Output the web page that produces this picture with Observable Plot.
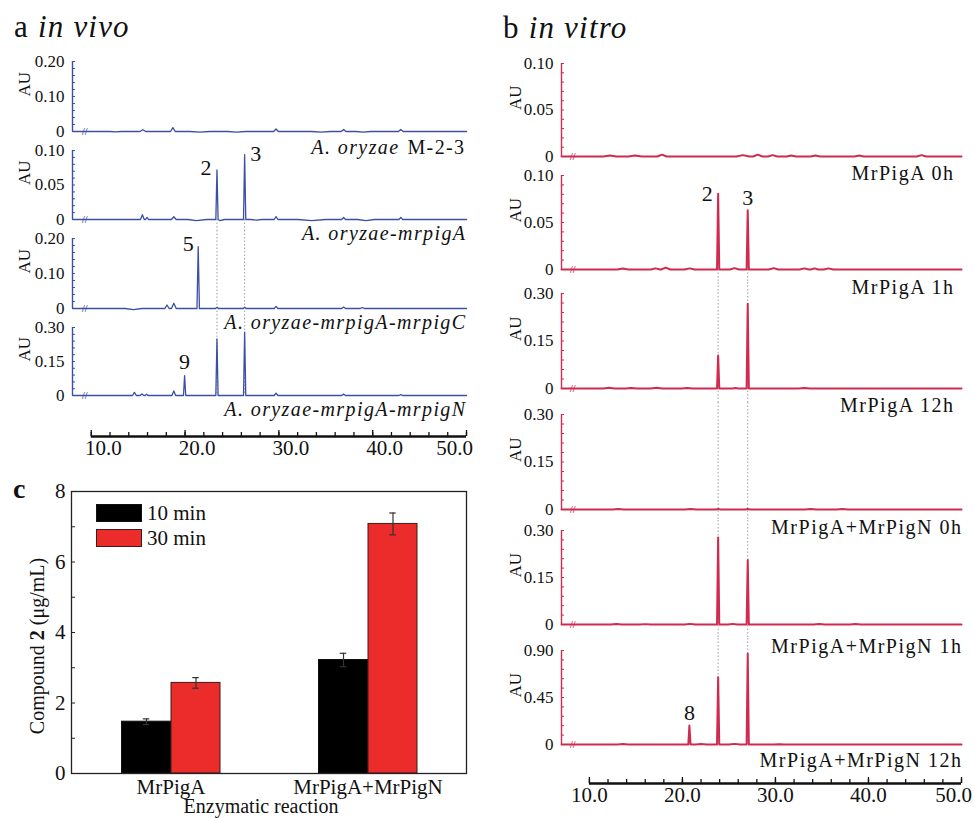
<!DOCTYPE html>
<html>
<head>
<meta charset="utf-8">
<script src="https://cdn.jsdelivr.net/npm/d3@7"></script>
<script src="https://cdn.jsdelivr.net/npm/@observablehq/plot@0.6"></script>
<style>
  html, body { margin: 0; padding: 0; background: #fff; }
  #root { position: relative; width: 975px; height: 818px; overflow: hidden;
          font-family: "Liberation Serif", "Times New Roman", Times, serif; color: #111; }
  .piece { position: absolute; }
  .piece svg { display: block; overflow: visible; }
  .title { position: absolute; font-size: 31px; line-height: 31px; white-space: nowrap; letter-spacing: 1.2px; }
  .swatch { position: absolute; box-sizing: border-box; width: 46px; height: 18px; }
  .legtext { position: absolute; font-size: 21px; line-height: 21px; white-space: nowrap; }
  .ylab { position: absolute; font-size: 20px; line-height: 20px; white-space: nowrap;
          transform: translate(-50%, -50%) rotate(-90deg); }
</style>
</head>
<body>
<div id="root"></div>
<script>
// ====================== DATA ======================
// Retention-time axis (min)
const timeTicks = [10, 20, 30, 40, 50];
const timeMinorTicks = [10, 12, 14, 16, 18, 20, 22, 24, 26, 28, 30, 32, 34, 36, 38, 40, 42, 44, 46, 48, 50];

// AU tick labels
const yTicks010 = [0, 0.05, 0.10];
const yTicks020 = [0, 0.10, 0.20];
const yTicks030 = [0, 0.15, 0.30];
const yTicks090 = [0, 0.45, 0.90];

// ---- Panel a (in vivo): [retention time, AU] ----
const aSampleNames = ["A. oryzae M-2-3", "A. oryzae-mrpigA", "A. oryzae-mrpigA-mrpigC", "A. oryzae-mrpigA-mrpigN"];
const aTraceM23 = [[8,0],[12.0,0],[12.6,-0.001],[13.2,0],[15.2,0],[15.5,0.005],[15.8,0],[18.45,0],[18.7,0.011],[18.95,0],
  [20.5,0],[21.6,-0.002],[22.6,0],[24.5,0],[25.5,-0.002],[26.5,0],[29.45,0],[29.7,0.007],[29.95,0],[33.5,0],[34.5,-0.002],
  [35.5,0],[36.65,0],[36.9,0.006],[37.15,0],[38.2,0],[39.0,-0.002],[39.8,0],[42.75,0],[43.0,0.006],[43.25,0],[50,0]];
const aTraceMrpigA = [[8,0],[15.25,0],[15.45,0.007],[15.65,0],[15.8,0],[15.95,0.003],[16.1,0],[18.55,0],[18.8,0.004],[19.05,0],
  [20.3,0],[21.2,-0.0015],[22.3,0],[23.28,0],[23.4,0.072],[23.52,0],[23.7,-0.0015],[24.2,0],[26.23,0],[26.35,0.094],[26.47,0],
  [27.0,0],[27.6,-0.001],[28.2,0],[29.5,0],[29.7,0.004],[29.9,0],[32,0],[33.5,-0.0015],[35,0],[36.7,0],[36.9,0.003],[37.1,0],
  [38.4,0],[39.3,-0.0015],[40.2,0],[42.8,0],[43.0,0.003],[43.2,0],[50,0]];
const aTraceMrpigC = [[8,0],[13.6,0],[14.5,-0.003],[15.4,0],[17.85,0],[18.07,0.01],[18.3,0],[18.55,0],[18.8,0.015],[19.05,0],
  [21.27,0],[21.4,0.177],[21.53,0],[23.25,0],[23.4,0.004],[23.55,0],[26.2,0],[26.35,0.004],[26.5,0],[29.5,0],[29.7,0.006],
  [29.9,0],[36.7,0],[36.9,0.004],[37.1,0],[38.7,0],[38.9,0.003],[39.1,0],[50,0]];
const aTraceMrpigN = [[8,0],[14.4,0],[14.6,0.014],[14.8,0],[15.2,0],[15.4,0.007],[15.6,0],[15.75,0],[15.9,0.006],[16.05,0],
  [18.6,0],[18.8,0.02],[19.0,0],[19.83,0],[19.95,0.088],[20.07,0],[23.28,0],[23.4,0.25],[23.52,0],[26.23,0],[26.35,0.279],
  [26.47,0],[29.5,0],[29.7,0.01],[29.9,0],[36.7,0],[36.9,0.006],[37.1,0],[42.8,0],[43.0,0.004],[43.2,0],[50,0]];
const aPeaksMrpigA = [{t: 23.4, au: 0.072, label: "2"}, {t: 26.35, au: 0.094, label: "3"}];
const aPeaksMrpigC = [{t: 21.4, au: 0.177, label: "5"}];
const aPeaksMrpigN = [{t: 19.95, au: 0.088, label: "9"}];
const aRefTimes = [23.4, 26.35];

// ---- Panel b (in vitro): [retention time, AU] ----
const bSampleNames = ["MrPigA 0h", "MrPigA 1h", "MrPigA 12h", "MrPigA+MrPigN 0h", "MrPigA+MrPigN 1h", "MrPigA+MrPigN 12h"];
const bTraceA0h = [[7,0],[11.5,0],[12.2,0.001],[12.9,0],[14.2,0],[14.9,0.001],[15.6,0],[17.3,0],[17.8,0.002],[18.3,0],
  [25.8,0],[26.5,0.0015],[27.2,0],[27.6,0],[28.1,0.002],[28.6,0],[29.2,0],[29.7,0.0015],[30.2,0],[31.2,0],[31.7,0.001],
  [32.2,0],[33.8,0],[34.3,0.001],[34.8,0],[38.5,0],[39.0,0.001],[39.5,0],[45.2,0],[45.7,0.0015],[46.2,0],[50,0]];
const bTraceA1h = [[7,0],[13.0,0],[13.6,0.001],[14.2,0],[16.6,0],[17.1,0.0012],[17.6,0],[17.7,0],[18.2,0.002],[18.7,0],
  [20.2,0],[20.8,0.0012],[21.3,0],[23.72,0],[23.84,0.0805],[23.96,0],[25.1,0],[25.6,0.0015],[26.1,0],[26.9,0],[27.02,0.063],
  [27.14,0],[29.3,0],[29.8,0.0015],[30.3,0],[32.6,0],[33.1,0.0012],[33.6,0],[33.8,0],[34.2,0.0012],[34.6,0],[35.2,0],
  [35.7,0.0012],[36.2,0],[50,0]];
const bTraceA12h = [[7,0],[11.5,0],[12.1,0.002],[12.7,0],[13.9,0],[14.5,0.0015],[15.1,0],[16.6,0],[17.2,0.002],[17.8,0],
  [19.9,0],[20.5,0.0015],[21.1,0],[23.72,0],[23.84,0.104],[23.96,0],[25.4,0],[25.7,0.0015],[26.0,0],[26.9,0],[27.02,0.268],
  [27.14,0],[32.5,0],[33.1,0.0015],[33.7,0],[50,0]];
const bTraceAN0h = [[7,0],[12.5,0],[13.1,0.0015],[13.7,0],[20.3,0],[20.9,0.0015],[21.5,0],[23.6,0],[23.84,0.0015],[24.1,0],
  [26.8,0],[27.02,0.0015],[27.3,0],[33.2,0],[33.8,0.0015],[34.4,0],[36.6,0],[37.2,0.0012],[37.8,0],[50,0]];
const bTraceAN1h = [[7,0],[12.3,0],[12.9,0.0015],[13.5,0],[15.4,0],[16.0,0.0012],[16.6,0],[20.2,0],[20.8,0.002],[21.4,0],
  [23.72,0],[23.84,0.278],[23.96,0],[24.9,0],[25.4,0.002],[25.9,0],[26.9,0],[27.02,0.206],[27.14,0],[34.1,0],[34.7,0.0015],
  [35.3,0],[38.0,0],[38.6,0.0015],[39.2,0],[50,0]];
const bTraceAN12h = [[7,0],[13.0,0],[13.6,0.004],[14.2,0],[20.63,0],[20.75,0.182],[20.87,0],[21.4,0],[22.0,0.004],[22.6,0],
  [23.72,0],[23.84,0.645],[23.96,0],[25.0,0],[25.6,0.006],[26.2,0],[26.9,0],[27.02,0.869],[27.14,0],[29.8,0],[30.4,0.003],
  [31.0,0],[50,0]];
const bPeaksA1h = [{t: 23.84, au: 0.0805, label: "2"}, {t: 27.02, au: 0.063, label: "3"}];
const bPeaksAN12h = [{t: 20.75, au: 0.182, label: "8"}];
const bRefTimes = [23.84, 27.02];

// ---- Panel c: compound 2 (µg/mL) ----
const cReactions = ["MrPigA", "MrPigA+MrPigN"];
const cSeries = ["10 min", "30 min"];
const c10min = [1.47, 3.22];
const c10minErr = [0.08, 0.19];
const c30min = [2.57, 7.08];
const c30minErr = [0.15, 0.31];
const cYTicks = [0, 2, 4, 6, 8];
const cYMinorTicks = [0, 1, 2, 3, 4, 5, 6, 7, 8];

// ====================== DRAWING ======================
const SERIF = "'Liberation Serif','Times New Roman',Times,serif";
const root = document.getElementById("root");
const baseStyle = {fontFamily: SERIF, fontSize: "17px", overflow: "visible", background: "transparent", color: "#111"};

function place(node, left, top, width) {
  const div = document.createElement("div");
  div.className = "piece";
  div.style.left = left + "px";
  div.style.top = top + "px";
  if (width) div.style.width = width + "px";
  div.appendChild(node);
  root.appendChild(div);
  return div;
}
function addHTML(cls, html, css) {
  const d = document.createElement("div");
  d.className = cls;
  d.innerHTML = html;
  Object.assign(d.style, css);
  root.appendChild(d);
  return d;
}
function spaceText(svg, strings, spacing) {
  d3.select(svg).selectAll("text").filter(function () { return strings.includes(this.textContent); })
    .attr("letter-spacing", spacing + "px");
}

const panelA = {left: 0, width: 480, marginLeft: 72, marginRight: 14, domain: [8, 50], color: "#3d4fa5",
  lineWidth: 1.3, breakT: 9.3, auDx: -48, tickPad: 8, refTimes: aRefTimes, italic: true, nameSize: 20, spacing: 1.4};
const panelB = {left: 490, width: 485, marginLeft: 71, marginRight: 14, domain: [7, 50], color: "#cf2a4f",
  lineWidth: 2, breakT: 8.2, auDx: -46, tickPad: 8, refTimes: bRefTimes, italic: false, nameSize: 20, spacing: 1.5};

const aSubs = [
  {trace: aTraceM23, yTicks: yTicks020, name: aSampleNames[0], peaks: [], offs: [],
   L: {svgTop: 42, svgBottom: 141, frameTop: 61, frameBottom: 131, nameDy: 16, nameDx: -1, refs: null}},
  {trace: aTraceMrpigA, yTicks: yTicks010, name: aSampleNames[1], peaks: aPeaksMrpigA, offs: [[-11, -2], [11, -1]],
   L: {svgTop: 141, svgBottom: 230, frameTop: 150, frameBottom: 219, nameDy: 14, nameDx: 0, refs: "start"}},
  {trace: aTraceMrpigC, yTicks: yTicks020, name: aSampleNames[2], peaks: aPeaksMrpigC, offs: [[-10, -3]],
   L: {svgTop: 230, svgBottom: 318, frameTop: 238, frameBottom: 308, nameDy: 14, nameDx: 0, refs: "through"}},
  {trace: aTraceMrpigN, yTicks: yTicks030, name: aSampleNames[3], peaks: aPeaksMrpigN, offs: [[0, -14]],
   L: {svgTop: 318, svgBottom: 425, frameTop: 327, frameBottom: 395, nameDy: 14, nameDx: 0, refs: "end"}}
];
const bSubs = [
  {trace: bTraceA0h, yTicks: yTicks010, name: bSampleNames[0], peaks: [], offs: [],
   L: {svgTop: 42, svgBottom: 165, frameTop: 63, frameBottom: 156, nameDy: 17, nameDx: -7, refs: null}},
  {trace: bTraceA1h, yTicks: yTicks010, name: bSampleNames[1], peaks: bPeaksA1h, offs: [[-11, 0], [0, -12]],
   L: {svgTop: 165, svgBottom: 282, frameTop: 175, frameBottom: 269, nameDy: 18, nameDx: -7, refs: "start"}},
  {trace: bTraceA12h, yTicks: yTicks030, name: bSampleNames[2], peaks: [], offs: [],
   L: {svgTop: 282, svgBottom: 402, frameTop: 293, frameBottom: 388, nameDy: 17, nameDx: -7, refs: "through"}},
  {trace: bTraceAN0h, yTicks: yTicks030, name: bSampleNames[3], peaks: [], offs: [],
   L: {svgTop: 402, svgBottom: 520, frameTop: 414, frameBottom: 509, nameDy: 18, nameDx: 1, refs: "through"}},
  {trace: bTraceAN1h, yTicks: yTicks030, name: bSampleNames[4], peaks: [], offs: [],
   L: {svgTop: 520, svgBottom: 638, frameTop: 530, frameBottom: 624, nameDy: 22, nameDx: 1, refs: "through"}},
  {trace: bTraceAN12h, yTicks: yTicks090, name: bSampleNames[5], peaks: bPeaksAN12h, offs: [[0, -13]],
   L: {svgTop: 638, svgBottom: 771, frameTop: 650, frameBottom: 744, nameDy: 16, nameDx: 1, refs: "end"}}
];

function chromatogram(panel, sub) {
  const L = sub.L;
  const height = L.svgBottom - L.svgTop;
  const marginTop = L.frameTop - L.svgTop;
  const marginBottom = L.svgBottom - L.frameBottom;
  const frameH = L.frameBottom - L.frameTop;
  const yMax = sub.yTicks[sub.yTicks.length - 1];
  const minor = d3.range(11).map(i => i * yMax / 10);
  const marks = [];
  if (L.refs) {
    marks.push(Plot.ruleX(panel.refTimes, {
      stroke: "#a0a0a0", strokeWidth: 1, strokeDasharray: "1.5,2",
      insetTop: L.refs === "start" ? frameH : -marginTop,
      insetBottom: L.refs === "end" ? 0 : -marginBottom
    }));
  }
  marks.push(
    Plot.ruleX([panel.domain[0]], {y1: 0, y2: yMax, stroke: panel.color, strokeWidth: 1.4}),
    Plot.axisY(minor, {tickSize: 3, dx: 3, stroke: panel.color, fill: "none", strokeWidth: 1}),
    Plot.axisY(sub.yTicks, {tickSize: 0, tickPadding: panel.tickPad, fontSize: 17, fill: "#111", label: null,
      tickFormat: d => d === 0 ? "0" : d.toFixed(2)}),
    Plot.text(["AU"], {frameAnchor: "left", rotate: -90, dx: panel.auDx, fontSize: 17, fill: "#111"}),
    Plot.line(sub.trace, {x: d => d[0], y: d => d[1], stroke: panel.color, strokeWidth: panel.lineWidth}),
    Plot.text(["//"], {x: panel.breakT, y: 0, fontSize: 10, fill: panel.color, fontWeight: "bold"})
  );
  sub.peaks.forEach((p, i) => marks.push(Plot.text([p], {
    x: "t", y: "au", text: "label", dx: sub.offs[i][0], dy: sub.offs[i][1], fontSize: 22, fill: "#111"})));
  const parts = [];
  const m = sub.name.match(/^(A\. oryzae) (M-2-3)$/);
  const nameOpts = {frameAnchor: "bottom-right", textAnchor: "end", lineAnchor: "middle", dy: L.nameDy,
    fontSize: panel.nameSize, fill: "#111"};
  if (m) {
    parts.push(m[1], m[2]);
    marks.push(Plot.text([m[2]], {...nameOpts, dx: L.nameDx}));
    marks.push(Plot.text([m[1]], {...nameOpts, dx: L.nameDx - 66, fontStyle: "italic"}));
  } else {
    parts.push(sub.name);
    marks.push(Plot.text([sub.name], {...nameOpts, dx: L.nameDx, fontStyle: panel.italic ? "italic" : "normal"}));
  }
  const svg = Plot.plot({
    width: panel.width, height, marginLeft: panel.marginLeft, marginRight: panel.marginRight, marginTop, marginBottom,
    x: {domain: panel.domain, axis: null},
    y: {domain: [0, yMax]},
    style: baseStyle,
    marks
  });
  spaceText(svg, parts, panel.spacing);
  place(svg, panel.left, L.svgTop, panel.width);
}

function timeAxis(panel, top, height, marginBottom, labelShift, lastShift) {
  const marks = [
    Plot.ruleY([0], {x1: timeTicks[0], x2: timeTicks[timeTicks.length - 1], stroke: "#111", strokeWidth: 2.6}),
    Plot.axisX(timeMinorTicks, {tickSize: 4, dy: -4, fill: "none", stroke: "#111", strokeWidth: 1.3}),
    Plot.axisX(timeTicks, {tickSize: 6, dy: -6, fill: "none", stroke: "#111", strokeWidth: 1.3}),
    Plot.axisX(timeTicks.slice(0, -1), {tickSize: 0, tickPadding: 4, dx: labelShift, fontSize: 21, label: null,
      tickFormat: d => d.toFixed(1), fill: "#111"}),
    Plot.axisX(timeTicks.slice(-1), {tickSize: 0, tickPadding: 4, dx: lastShift, fontSize: 21, label: null,
      tickFormat: d => d.toFixed(1), fill: "#111"})
  ];
  const svg = Plot.plot({
    width: panel.width, height, marginLeft: panel.marginLeft, marginRight: panel.marginRight, marginTop: 0, marginBottom,
    x: {domain: panel.domain},
    y: {domain: [0, 1], axis: null},
    style: baseStyle,
    marks
  });
  place(svg, panel.left, top, panel.width);
}

// ---- panel a & b ----
aSubs.forEach(s => chromatogram(panelA, s));
timeAxis(panelA, 425, 45, 34, 12, -12);
bSubs.forEach(s => chromatogram(panelB, s));
timeAxis(panelB, 771, 47, 35, 0, -8);

// ---- panel c ----
const cRows10 = cReactions.map((r, i) => ({reaction: r, series: cSeries[0], value: c10min[i], err: c10minErr[i]}));
const cRows30 = cReactions.map((r, i) => ({reaction: r, series: cSeries[1], value: c30min[i], err: c30minErr[i]}));
const cRed = "#ec2b2b";
const cPlot = Plot.plot({
  width: 480, height: 348, marginLeft: 71, marginRight: 14, marginTop: 21, marginBottom: 45,
  x: {domain: cReactions, padding: 0},
  y: {domain: [0, 8]},
  style: {...baseStyle, fontSize: "21px"},
  marks: [
    Plot.barY(cRows10, {x: "reaction", y: "value", fill: "#000", stroke: "#111", strokeWidth: 1, insetLeft: 49.5, insetRight: 98.5}),
    Plot.barY(cRows30, {x: "reaction", y: "value", fill: cRed, stroke: "#3a1c1c", strokeWidth: 1, insetLeft: 99, insetRight: 49}),
    Plot.ruleX(cRows10, {x: "reaction", y1: d => d.value - d.err, y2: d => d.value + d.err, dx: -24.5, stroke: "#333", strokeWidth: 1.2}),
    Plot.ruleX(cRows30, {x: "reaction", y1: d => d.value - d.err, y2: d => d.value + d.err, dx: 25, stroke: "#333", strokeWidth: 1.2}),
    Plot.tickY(cRows10, {x: "reaction", y: d => d.value + d.err, insetLeft: 70.75, insetRight: 119.75, stroke: "#333", strokeWidth: 1.2}),
    Plot.tickY(cRows10, {x: "reaction", y: d => d.value - d.err, insetLeft: 70.75, insetRight: 119.75, stroke: "#333", strokeWidth: 1.2}),
    Plot.tickY(cRows30, {x: "reaction", y: d => d.value + d.err, insetLeft: 120.25, insetRight: 70.25, stroke: "#333", strokeWidth: 1.2}),
    Plot.tickY(cRows30, {x: "reaction", y: d => d.value - d.err, insetLeft: 120.25, insetRight: 70.25, stroke: "#333", strokeWidth: 1.2}),
    Plot.frame({stroke: "#222", strokeWidth: 1.3}),
    Plot.axisY(cYMinorTicks, {tickSize: 4, dx: 4, fill: "none", stroke: "#222", strokeWidth: 1}),
    Plot.axisY(cYTicks, {tickSize: 0, tickPadding: 6, fontSize: 21, label: null, fill: "#111"}),
    Plot.axisX(cReactions, {tickSize: 0, tickPadding: 6, fontSize: 21, label: null, fill: "#111"}),
    Plot.text(["Enzymatic reaction"], {frameAnchor: "bottom", lineAnchor: "middle", dy: 33, dx: -8, fontSize: 20, fill: "#111"})
  ]
});
place(cPlot, 0, 470, 480);

// legend for panel c
addHTML("swatch", "", {left: "96px", top: "504px", background: "#000", border: "1px solid #111"});
addHTML("swatch", "", {left: "96px", top: "529px", background: cRed, border: "1px solid #3a1c1c"});
addHTML("legtext", cSeries[0], {left: "147px", top: "503px"});
addHTML("legtext", cSeries[1], {left: "147px", top: "528px"});
// y label for panel c
addHTML("ylab", "Compound <b>2</b> (μg/mL)", {left: "37px", top: "646px"});

// panel titles
addHTML("title", "a <i>in vivo</i>", {left: "14px", top: "11px"});
addHTML("title", "b <i>in vitro</i>", {left: "503px", top: "12px"});
addHTML("title", "<b>c</b>", {left: "13px", top: "475px", fontSize: "28px", lineHeight: "28px"});
</script>
</body>
</html>
